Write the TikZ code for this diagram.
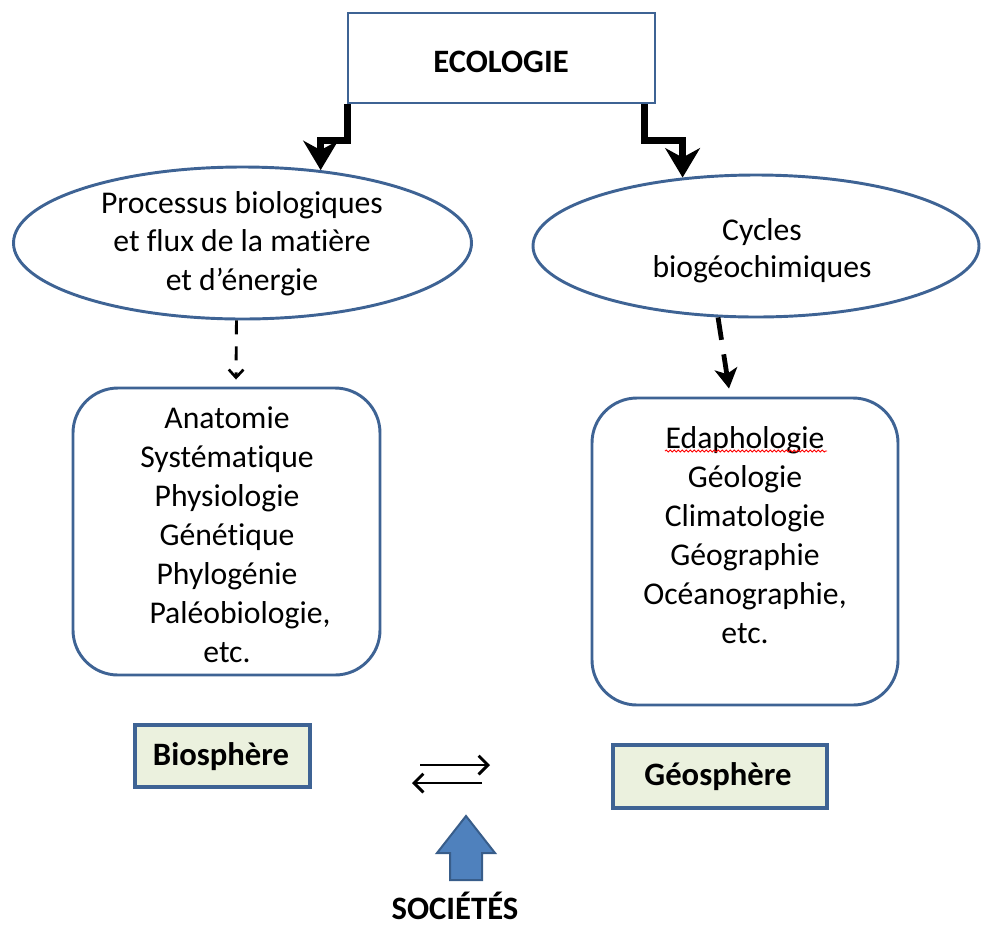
\documentclass[tikz,border=0pt]{standalone}
\usepackage{fontspec}
\setmainfont{Carlito}[Ligatures=NoCommon]
\usetikzlibrary{shapes.geometric,arrows.meta,calc,decorations.pathmorphing}
\definecolor{bord}{RGB}{62,99,148}
\definecolor{arrfill}{RGB}{79,129,189}
\definecolor{arrbord}{RGB}{56,93,138}
\definecolor{greenfill}{RGB}{235,241,222}
\begin{document}
\begin{tikzpicture}[x=0.75pt,y=-0.75pt,
  shapebox/.style={draw=bord, line width=2.2pt, inner sep=0pt},
  ellbox/.style={shapebox, ellipse},
  roundbox/.style={shapebox, rounded corners=33.75pt},
  greenbox/.style={shapebox, fill=greenfill, line width=2.6pt},
  txt/.style={font=\fontsize{23.75}{29.2}\selectfont, align=center, inner sep=0pt},
  btxt/.style={font=\fontsize{24.5}{29}\selectfont\bfseries, inner sep=0pt},
  thickarr/.style={line width=5pt, -{Stealth[length=22pt,width=26pt,inset=7pt]}},
  dashl/.style={line width=2.2pt, dash pattern=on 10.5pt off 9pt, -{Straight Barb[length=6pt,width=11pt,line width=2pt]}},
  dashr/.style={line width=3.6pt, dash pattern=on 17pt off 11pt, -{Stealth[length=15pt,width=17pt,inset=4pt]}},
  xarr/.style={line width=2.2pt, -{Straight Barb[length=7pt,width=14pt,line width=2.2pt]}},
  wavy/.style={red, line width=0.7pt, decorate, decoration={snake, amplitude=0.7pt, segment length=3pt}}
]
\useasboundingbox (0,0) rectangle (981,926);

% shapes
\node[shapebox, minimum width=230.25pt, minimum height=67.5pt] (eco) at (501.5,58) {};
\node[btxt] (ecotxt) at (501,62) {ECOLOGIE};

\node[ellbox, minimum width=343.5pt, minimum height=114pt] (proc) at (242.5,243) {};
\node[txt, font=\fontsize{23.75}{28.9}\selectfont] (proctxt) at (242,243.5) {Processus biologiques\\et flux de la matière\\et d’énergie};

\node[ellbox, minimum width=334.5pt, minimum height=106.5pt] (cyc) at (756,246) {};
\node[txt, font=\fontsize{23.75}{28}\selectfont] (cyctxt) at (762,250.5) {Cycles\\biogéochimiques};

\node[roundbox, minimum width=230.25pt, minimum height=215.25pt] (bbox) at (226.5,531.5) {};
\node[txt] (btext) at (227,534.5) {Anatomie\\Systématique\\Physiologie\\Génétique\\Phylogénie\\\hspace*{19.5pt}Paléobiologie,\\etc.};

\node[roundbox, minimum width=229.5pt, minimum height=230.25pt] (gbox) at (745,551.5) {};
\node[txt] (gtext) at (745,535) {Edaphologie\\Géologie\\Climatologie\\Géographie\\Océanographie,\\etc.};
\coordinate (ul1) at (665,451);
\coordinate (ul2) at (827,451);
\draw[wavy] (ul1) -- (ul2);

\node[greenbox, minimum width=131.25pt, minimum height=46.5pt] (bio) at (222.5,756) {};
\node[btxt] (biotxt) at (221,757) {Biosphère};

\node[greenbox, minimum width=160.5pt, minimum height=47.25pt] (geo) at (720,776.5) {};
\node[btxt] (geotxt) at (718,777) {Géosphère};

\node[btxt] (soc) at (455,906) {SOCIÉTÉS};

% connectors
\draw[thickarr] ($(eco.south west)+(1,0)$) -- ++(0,36) -| (proc.43.6);
\draw[thickarr] ($(eco.south east)+(-12,0)$) -- ++(0,36) -| (cyc.137.5);

\draw[dashl] ($(proc.south)+(-6,0)$) -- ($(bbox.north)+(9.5,-7)$);
\draw[dashr] (cyc.-118.5) -- ($(gbox.north)+(-16,-8)$);

\coordinate (e1) at (420,765);
\coordinate (e2) at (490,765);
\coordinate (e3) at (482,783);
\coordinate (e4) at (412,783);
\draw[xarr] (e1) -- (e2);
\draw[xarr] (e3) -- (e4);

% block arrow
\draw[fill=arrfill, draw=arrbord, line width=1.5pt, line join=miter]
  (466,816) -- (495,853) -- (482,853) -- (482,880) -- (450,880) -- (450,853) -- (437,853) -- cycle;
\end{tikzpicture}
\end{document}
